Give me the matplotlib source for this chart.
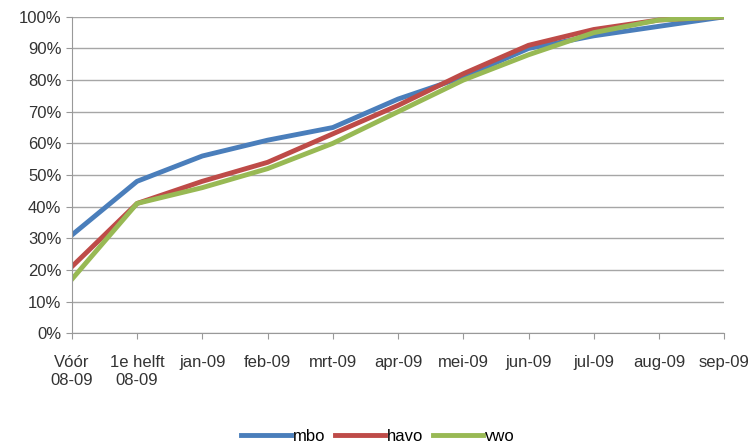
import matplotlib.pyplot as plt
from matplotlib.ticker import PercentFormatter

categories = ["Vóór\n08-09", "1e helft\n08-09", "jan-09", "feb-09", "mrt-09", "apr-09",
              "mei-09", "jun-09", "jul-09", "aug-09", "sep-09"]
mbo = [31, 48, 56, 61, 65, 74, 81, 90, 94, 97, 100]
havo = [21, 41, 48, 54, 63, 72, 82, 91, 96, 99, 100]
vwo = [17, 41, 46, 52, 60, 70, 80, 88, 95, 99, 100]

plt.rcParams['font.family'] = ['Liberation Sans Narrow', 'Liberation Sans', 'DejaVu Sans']

fig = plt.figure(figsize=(7.56, 4.43), dpi=100)
ax = fig.add_axes([0.095, 0.248, 0.863, 0.714])

x = range(len(categories))
ax.plot(x, mbo, color='#4a7ebb', lw=3.5, label='mbo')
ax.plot(x, havo, color='#be4b48', lw=3.5, label='havo')
ax.plot(x, vwo, color='#98b954', lw=3.5, label='vwo')

ax.set_xlim(0, len(categories) - 1)
ax.set_ylim(0, 100)
ax.set_yticks(range(0, 101, 10))
ax.yaxis.set_major_formatter(PercentFormatter(decimals=0))
ax.set_xticks(list(x))
ax.set_xticklabels(categories, fontsize=12, color='#333333')
ax.tick_params(axis='y', labelsize=12, labelcolor='#333333', color='#999999', length=4)
ax.tick_params(axis='x', color='#999999', length=4, pad=12)
ax.grid(axis='y', color='#a6a6a6', lw=1)
ax.set_axisbelow(True)
for s in ['top', 'right']:
    ax.spines[s].set_visible(False)
for s in ['left', 'bottom']:
    ax.spines[s].set_color('#999999')

fig.legend(loc='lower center', ncol=3, frameon=False, fontsize=12,
           bbox_to_anchor=(0.5, -0.035), handlelength=3, handletextpad=0.1, columnspacing=0.6)

fig.savefig('out.png', dpi=100)
